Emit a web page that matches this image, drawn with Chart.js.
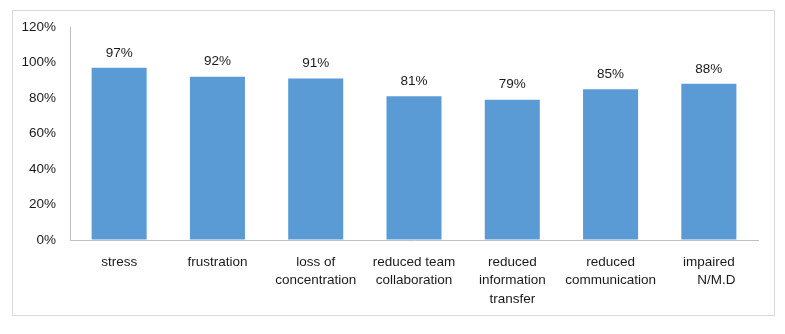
<!DOCTYPE html>
<html>
<head>
<meta charset="utf-8">
<script src="https://cdn.jsdelivr.net/npm/chart.js@4/dist/chart.umd.min.js"></script>
<style>
html,body{margin:0;padding:0;background:#fff;}
#wrap{position:relative;width:785px;height:334px;}
</style>
</head>
<body>
<div id="wrap"><canvas id="c" width="785" height="334"></canvas></div>
<script>
const categories = [
  "stress",
  "frustration",
  ["loss of", "concentration"],
  ["reduced team", "collaboration"],
  ["reduced", "information", "transfer"],
  ["reduced", "communication"],
  ["impaired", "    N/M.D"]
];
const values = [97, 92, 91, 81, 79, 85, 88];
const yTicks = [0, 20, 40, 60, 80, 100, 120];

const FONT = "'Liberation Sans', Arial, sans-serif";

const frame = {
  id: 'frame',
  beforeDraw(chart) {
    const ctx = chart.ctx;
    ctx.save();
    ctx.fillStyle = '#fff';
    ctx.fillRect(0, 0, chart.width, chart.height);
    ctx.strokeStyle = '#d9d9d9';
    ctx.lineWidth = 1;
    ctx.strokeRect(12.5, 10.5, 762, 305);
    ctx.restore();
  }
};

const dataLabels = {
  id: 'dataLabels',
  afterDatasetsDraw(chart) {
    const ctx = chart.ctx;
    const meta = chart.getDatasetMeta(0);
    ctx.save();
    ctx.font = "13.5px " + FONT;
    ctx.fillStyle = '#1a1a1a';
    ctx.textAlign = 'center';
    ctx.textBaseline = 'middle';
    meta.data.forEach((bar, i) => {
      ctx.fillText(values[i] + '%', bar.x, bar.y - 15);
    });
    ctx.restore();
  }
};

new Chart(document.getElementById('c'), {
  type: 'bar',
  data: {
    labels: categories,
    datasets: [{
      data: values,
      backgroundColor: '#5b9bd5',
      borderWidth: 0,
      categoryPercentage: 0.56,
      barPercentage: 1.0
    }]
  },
  options: {
    responsive: false,
    animation: false,
    devicePixelRatio: 1,
    layout: { padding: { left: 0, right: 27, top: 27, bottom: 0 } },
    plugins: { legend: { display: false }, tooltip: { enabled: false } },
    scales: {
      x: {
        grid: { display: true, color: 'rgba(0,0,0,0)', drawTicks: false },
        border: { display: true, color: '#bfbfbf', width: 1 },
        ticks: {
          color: '#1a1a1a',
          font: { family: FONT, size: 13.5, lineHeight: 1.37 },
          padding: 13,
          maxRotation: 0,
          autoSkip: false
        },
        afterFit(scale) { scale.height = 94; }
      },
      y: {
        min: 0,
        max: 120,
        afterBuildTicks(scale) { scale.ticks = yTicks.map(v => ({ value: v })); },
        grid: { display: true, color: 'rgba(0,0,0,0)', drawTicks: false },
        border: { display: true, color: '#bfbfbf', width: 1 },
        ticks: {
          color: '#1a1a1a',
          font: { family: FONT, size: 13.5 },
          padding: 14,
          callback: v => v + '%'
        },
        afterFit(scale) { scale.width = 70; }
      }
    }
  },
  plugins: [frame, dataLabels]
});
</script>
</body>
</html>
